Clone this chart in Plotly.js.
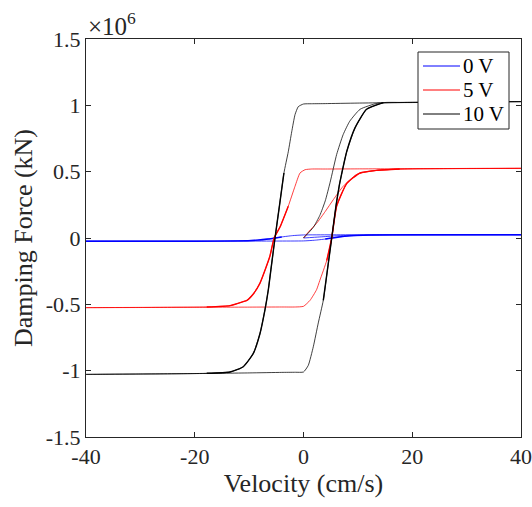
<!DOCTYPE html>
<html>
<head>
<meta charset="utf-8">
<script src="https://cdn.plot.ly/plotly-3.0.1.min.js"></script>
<style>html,body{margin:0;padding:0;background:#fff;}#chart{width:532px;height:507px;}</style>
</head>
<body>
<div id="chart"></div>
<script>
// Force values are in units of 10^6 (axis multiplier shown as ×10^6)
// ---------- 0 V ----------
const v0_initX = [0, 3, 6, 10, 20];
const v0_initY = [0, 0.008, 0.016, 0.022, 0.024];
const v0_downX = [40, 20, 5, 0, -2, -4, -5.2, -6.5, -8.5, -12, -20, -40];
const v0_downY = [0.025, 0.025, 0.024, 0.023, 0.018, 0.008, 0, -0.008, -0.016, -0.022, -0.024, -0.024];
const v0_upX = [-40, -20, -5, 0, 2, 4, 5.2, 6.5, 8.5, 12, 20, 40];
const v0_upY = [-0.024, -0.024, -0.023, -0.022, -0.017, -0.008, 0, 0.008, 0.016, 0.022, 0.024, 0.025];

// ---------- 5 V ----------
const v5_initX = [0, 1.0, 2.4, 4.0, 5.5, 7.3, 9.8, 13.5, 20];
const v5_initY = [0, 0.05, 0.11, 0.20, 0.29, 0.39, 0.48, 0.51, 0.522];
const v5_downX = [40, 30, 20, 10, 4, 1.5, 0.3, -0.64, -1.56, -2.8, -4.3, -5.4, -6.2, -8.0, -9.2, -10.4, -11.1, -13.5, -17.8, -25, -40];
const v5_downY = [0.525, 0.524, 0.522, 0.521, 0.52, 0.52, 0.515, 0.49, 0.39, 0.24, 0.085, 0, -0.14, -0.34, -0.42, -0.47, -0.48, -0.51, -0.52, -0.522, -0.525];
const v5_upX = [-40, -30, -20, -10, -4, -1.5, 0, 1.2, 2.4, 3.0, 4.27, 5.19, 6.1, 7.94, 10.4, 13.5, 17.7, 25, 40];
const v5_upY = [-0.525, -0.524, -0.522, -0.521, -0.52, -0.52, -0.515, -0.47, -0.39, -0.32, -0.17, 0, 0.24, 0.41, 0.49, 0.51, 0.52, 0.522, 0.525];

// ---------- 10 V ----------
const v10_initX = [0, 1.8, 3.0, 4.0, 4.9, 6.1, 7.3, 8.5, 10.4, 13.5, 16, 20];
const v10_initY = [0, 0.08, 0.17, 0.28, 0.42, 0.63, 0.78, 0.88, 0.97, 1.015, 1.02, 1.021];
const v10_downX = [40, 30, 20, 10, 4, 1.5, 0, -0.96, -1.56, -2.17, -2.8, -3.6, -4.4, -5.24, -6.0, -6.47, -7.08, -8.0, -9.23, -11.07, -13.5, -17.8, -25, -40];
const v10_downY = [1.028, 1.025, 1.022, 1.017, 1.013, 1.012, 1.01, 0.99, 0.93, 0.80, 0.65, 0.49, 0.25, 0, -0.24, -0.39, -0.54, -0.72, -0.87, -0.97, -1.01, -1.02, -1.024, -1.028];
const v10_upX = [-40, -30, -20, -10, -4, -1.5, 0, 0.88, 1.8, 2.72, 3.64, 4.4, 5.19, 6.0, 6.6, 7.0, 7.94, 9.47, 11.6, 14.7, 17.7, 25, 40];
const v10_upY = [-1.028, -1.025, -1.022, -1.017, -1.013, -1.012, -1.01, -0.96, -0.82, -0.64, -0.47, -0.24, 0, 0.25, 0.40, 0.48, 0.65, 0.83, 0.97, 1.02, 1.022, 1.025, 1.028];

const seriesNames = ['0 V', '5 V', '10 V'];
const seriesColors = ['#0000ff', '#ff0000', '#000000'];

const xTickVals = [-40, -20, 0, 20, 40];
const xTickText = ['-40', '-20', '0', '20', '40'];
const yTickVals = [-1.5, -1, -0.5, 0, 0.5, 1, 1.5];
const yTickText = ['-1.5', '-1', '-0.5', '0', '0.5', '1', '1.5'];

const loops = [
  [v0_initX, v0_initY, v0_downX, v0_downY, v0_upX, v0_upY],
  [v5_initX, v5_initY, v5_downX, v5_downY, v5_upX, v5_upY],
  [v10_initX, v10_initY, v10_downX, v10_downY, v10_upX, v10_upY]
];

const font = 'Liberation Serif, Times New Roman, serif';
const ink = '#262626';

// plot-area geometry (pixels) used only to place the hand-built legend box
const W = 532, H = 507, ML = 86, MR = 11, MT = 39, MB = 70;
const pw = W - ML - MR, ph = H - MT - MB;
const px = v => (v - ML) / pw;
const py = v => (H - MB - v) / ph;

const traces = [];
loops.forEach((L, i) => {
  traces.push({
    type: 'scatter', mode: 'lines', name: seriesNames[i],
    x: [].concat(L[0], L[2], L[4]),
    y: [].concat(L[1], L[3], L[5]),
    line: {color: seriesColors[i], width: 0.75, shape: 'spline', smoothing: 0.5},
    hoverinfo: 'skip', showlegend: false
  });
});
// repeated cycles overlap on the second half of each transition, drawn darker
loops.forEach((L, i) => {
  [[L[2], L[3], -1], [L[4], L[5], 1]].forEach(([bx, by, dir]) => {
    const amp = Math.max.apply(null, by.map(Math.abs));
    const idx = by.map((v, k) => k).filter(k => Math.abs(by[k]) < 0.985 * amp && dir * by[k] > -0.3 * amp);
    const lo = Math.max(0, idx[0] - 1), hi = Math.min(by.length - 1, idx[idx.length - 1] + 1);
    traces.push({
      type: 'scatter', mode: 'lines', showlegend: false, hoverinfo: 'skip',
      x: bx.slice(lo, hi + 1), y: by.slice(lo, hi + 1),
      line: {color: seriesColors[i], width: 1.4, shape: 'spline', smoothing: 0.5}
    });
  });
});

const axisCommon = {
  showgrid: false, zeroline: false, showline: true,
  linecolor: ink, linewidth: 1, mirror: 'ticks',
  ticks: 'inside', ticklen: 5, tickcolor: ink,
  tickfont: {family: font, size: 22, color: ink}
};

// legend drawn as box + sample lines + text annotations
const legBox = {x0: 418, x1: 509, y0: 52, y1: 129};
const legRows = [66, 90, 114];
const shapes = [{
  type: 'rect', xref: 'paper', yref: 'paper',
  x0: px(legBox.x0), x1: px(legBox.x1), y0: py(legBox.y1), y1: py(legBox.y0),
  line: {color: ink, width: 1}, fillcolor: '#ffffff', layer: 'above'
}];
const annotations = [{
  xref: 'paper', yref: 'paper', x: 0, y: 1,
  xanchor: 'left', yanchor: 'bottom',
  text: '×10<sup>6</sup>', showarrow: false,
  font: {family: font, size: 25, color: ink}, yshift: -3
}];
seriesNames.forEach((n, i) => {
  shapes.push({
    type: 'line', xref: 'paper', yref: 'paper', layer: 'above',
    x0: px(423), x1: px(460), y0: py(legRows[i]), y1: py(legRows[i]),
    line: {color: seriesColors[i], width: 1}
  });
  annotations.push({
    xref: 'paper', yref: 'paper', x: px(461), y: py(legRows[i]),
    xanchor: 'left', yanchor: 'middle', showarrow: false,
    text: n, font: {family: font, size: 21, color: '#000'}
  });
});

const layout = {
  width: W, height: H,
  margin: {l: ML, r: MR, t: MT, b: MB},
  paper_bgcolor: '#ffffff', plot_bgcolor: '#ffffff',
  showlegend: false,
  xaxis: Object.assign({}, axisCommon, {
    range: [-40, 40], tickmode: 'array', tickvals: xTickVals, ticktext: xTickText,
    title: {text: 'Velocity (cm/s)', font: {family: font, size: 26, color: ink}, standoff: 4}
  }),
  yaxis: Object.assign({}, axisCommon, {
    range: [-1.5, 1.5], tickmode: 'array', tickvals: yTickVals, ticktext: yTickText,
    title: {text: 'Damping Force (kN)', font: {family: font, size: 26, color: ink}, standoff: 5}
  }),
  shapes: shapes,
  annotations: annotations
};

Plotly.newPlot('chart', traces, layout, {displayModeBar: false, staticPlot: true});
</script>
</body>
</html>
